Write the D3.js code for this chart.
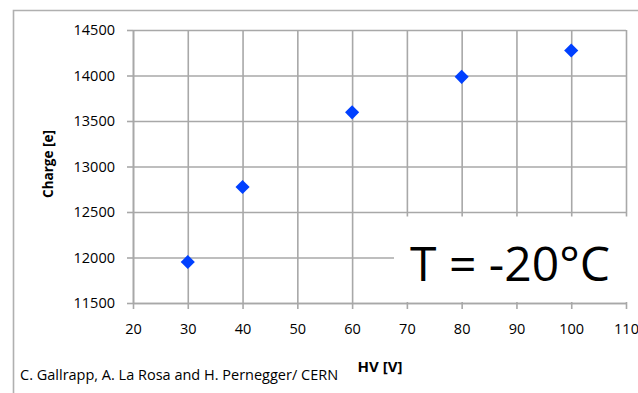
<!DOCTYPE html>
<html><head><meta charset="utf-8">
<script src="https://cdn.jsdelivr.net/npm/d3@7"></script>
<style>
html,body{margin:0;padding:0;background:#fff;}
svg{display:block;}
text{font-family:"Open Sans",sans-serif;fill:#000;}
</style></head>
<body>
<svg id="chart" width="638" height="393"></svg>
<script>
const hv = [30, 40, 60, 80, 100];
const charge = [11950, 12775, 13595, 13985, 14275];
const xTicks = [20, 30, 40, 50, 60, 70, 80, 90, 100, 110];
const yTicks = [11500, 12000, 12500, 13000, 13500, 14000, 14500];
const xTitle = "HV [V]";
const yTitle = "Charge [e]";
const note = "T = -20°C";
const credit = "C. Gallrapp, A. La Rosa and H. Pernegger/ CERN";

const svg = d3.select("#chart");
const W = 638, H = 393;
const m = {left: 133, right: 626, top: 30, bottom: 303};
const grid = "#a8a8a8";

// outer frame (clipped by the page)
svg.append("path")
  .attr("d", `M13.5,${H+2}V10.5H${W+2}`)
  .attr("fill", "none").attr("stroke", "#b0b0b0").attr("stroke-width", 1.6);

const x = d3.scaleLinear().domain([20, 110]).range([m.left, m.right]);
const y = d3.scaleLinear().domain([11500, 14500]).range([m.bottom, m.top]);

// grid
const xg = svg.append("g").attr("transform", `translate(0,${m.bottom})`)
  .call(d3.axisBottom(x).tickValues(xTicks).tickSize(-(m.bottom - m.top)).tickFormat(""));
xg.select(".domain").remove();
xg.selectAll("line").attr("stroke", grid).attr("stroke-width", 1.6);
const yg = svg.append("g").attr("transform", `translate(${m.left},0)`)
  .call(d3.axisLeft(y).tickValues(yTicks).tickSize(-(m.right - m.left)).tickFormat(""));
yg.select(".domain").remove();
yg.selectAll("line").attr("stroke", grid).attr("stroke-width", 1.6);

// axes with outward ticks and labels
const xa = svg.append("g").attr("transform", `translate(0,${m.bottom})`)
  .call(d3.axisBottom(x).tickValues(xTicks).tickSizeInner(6).tickSizeOuter(0).tickPadding(15));
xa.select(".domain").attr("stroke", grid).attr("stroke-width", 1.6);
xa.selectAll("line").attr("stroke", grid).attr("stroke-width", 1.6);
xa.selectAll("text").attr("font-family", "Open Sans").attr("font-size", 14.5).attr("font-weight", 500).attr("fill", "#000");

const ya = svg.append("g").attr("transform", `translate(${m.left},0)`)
  .call(d3.axisLeft(y).tickValues(yTicks).tickSizeInner(6).tickSizeOuter(0).tickPadding(12).tickFormat(d3.format("d")));
ya.select(".domain").attr("stroke", grid).attr("stroke-width", 1.6);
ya.selectAll("line").attr("stroke", grid).attr("stroke-width", 1.6);
ya.selectAll("text").attr("font-family", "Open Sans").attr("font-size", 14.5).attr("font-weight", 500).attr("fill", "#000");

// white annotation box covering part of the grid
svg.append("rect").attr("x", 394).attr("y", 216.5).attr("width", W - 394).attr("height", 85.5).attr("fill", "#fff");
svg.append("text").attr("x", 410).attr("y", 281)
  .attr("font-size", 48).text(note);

// markers
const sym = d3.symbol().type(d3.symbolSquare).size(100);
svg.append("g").selectAll("path").data(hv).join("path")
  .attr("d", sym)
  .attr("transform", (d, i) => `translate(${x(d)},${y(charge[i])}) rotate(45)`)
  .attr("fill", "#0040ff");

// titles
svg.append("text").attr("transform", "translate(53,164) rotate(-90)")
  .attr("text-anchor", "middle").attr("font-weight", "bold").attr("font-size", 13.5)
  .text(yTitle);
svg.append("text").attr("x", 380).attr("y", 372)
  .attr("text-anchor", "middle").attr("font-weight", "bold").attr("font-size", 15)
  .text(xTitle);
svg.append("text").attr("x", 20).attr("y", 380).attr("font-size", 14.5).text(credit);
</script>
</body></html>
